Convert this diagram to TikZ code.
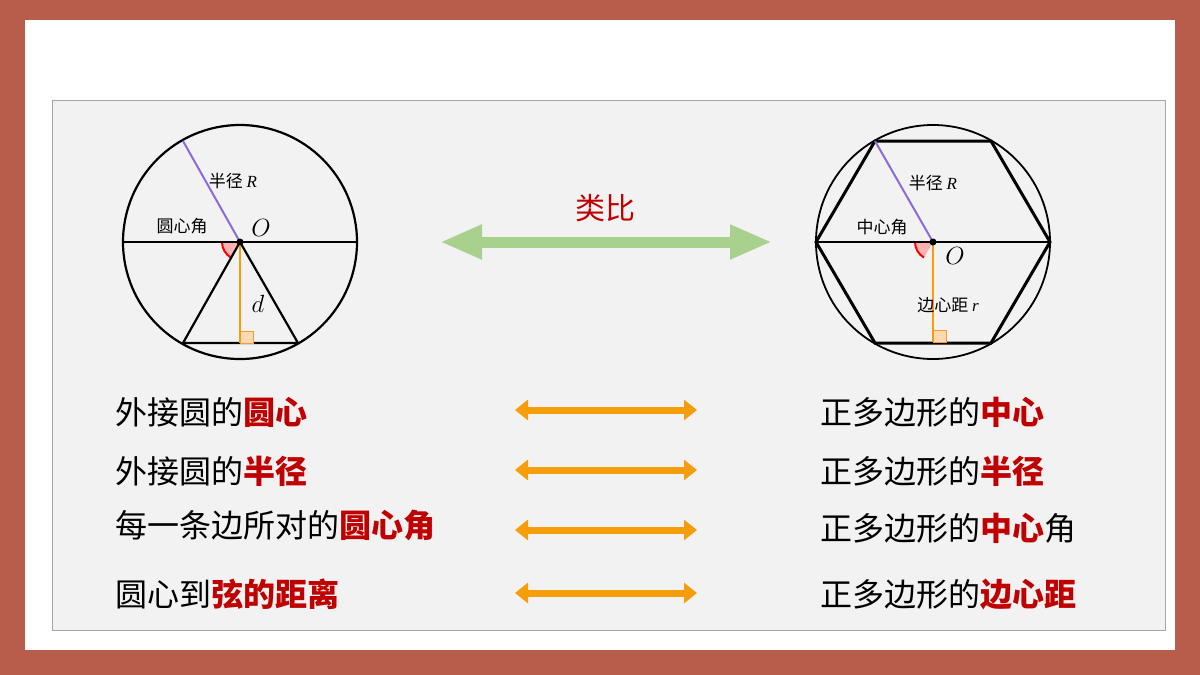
\documentclass[tikz,border=0pt]{standalone}
\usepackage{fontspec}
\newfontfamily\cjk{Noto Sans CJK SC}
\usetikzlibrary{arrows.meta,calc}
\definecolor{brd}{HTML}{B85C4C}
\definecolor{dred}{HTML}{C00000}
\definecolor{org}{HTML}{F59D0A}
\definecolor{grn}{HTML}{A9D18E}
\definecolor{purp}{HTML}{8E6AD8}
\tikzset{
  geo/.style={line width=2.2pt,black},
  lbl/.style={font=\cjk\fontsize{17}{17}\selectfont,inner sep=0pt},
  big/.style={font=\cjk\fontsize{32}{32}\selectfont,inner sep=0pt,anchor=west},
  oarr/.style={draw=org,line width=7pt,{Triangle[length=13pt,width=20pt]}-{Triangle[length=13pt,width=20pt]}},
  hl/.style={text=dred,font=\bfseries}
}
\begin{document}
\begin{tikzpicture}[x=1pt,y=-1pt]
\useasboundingbox (0,0) rectangle (1200,675);
\fill[brd] (0,0) rectangle (1200,675);
\fill[white] (25,20) rectangle (1175,650);
\draw[fill={rgb,255:red,242;green,242;blue,242},draw=gray!70,line width=0.8pt] (52,100) rectangle (1165,630);
% left circle
\coordinate (L) at (240,242);
\fill[red!30] (L) -- ++(180:18) arc[start angle=180,end angle=120,radius=18] -- cycle;
\draw[red,line width=2pt] ($(L)+(180:18)$) arc[start angle=180,end angle=120,radius=18];
\draw[geo] (L) circle[radius=117];
\draw[geo] (123,242) -- (357,242);
\coordinate (LA) at (183,343); \coordinate (LB) at (298,343); \coordinate (LM) at (240,343);
\draw[geo] (L) -- (LA) -- (LB) -- cycle;
\draw[purp,line width=2pt] (L) -- (183,141);
\draw[fill=orange!30,draw=orange!80,line width=1pt] (240,343) rectangle (253,331);
\draw[org,line width=2.2pt] (L) -- (LM);
\fill (L) circle[radius=3.5];
\node[lbl] (lr) at (233,181) {半径 \textit{\fontspec{Liberation Serif}R}};
\node[lbl] (la) at (182,226) {圆心角};
\node[inner sep=0pt,font=\fontsize{32}{32}\selectfont\itshape] (lo) at (261,228) {$O$};
\node[inner sep=0pt,font=\fontsize{30}{30}\selectfont] (ld) at (258,304) {$d$};
% right
\coordinate (R) at (933,242);
\fill[red!30] (R) -- ++(180:18) arc[start angle=180,end angle=120,radius=18] -- cycle;
\draw[red,line width=2pt] ($(R)+(180:18)$) arc[start angle=180,end angle=120,radius=18];
\draw[line width=1.8pt] (R) circle[radius=117];
\draw[line width=3pt] (1050,242) -- (991,141) -- (875,141) -- (816,242) -- (875,343) -- (991,343) -- cycle;
\draw[geo] (816,242) -- (1050,242);
\draw[purp,line width=2pt] (R) -- (875,141);
\draw[fill=orange!30,draw=orange!80,line width=1pt] (933,342) rectangle (946,330);
\draw[org,line width=2.2pt] (R) -- (933,342);
\fill (R) circle[radius=3.5];
\node[lbl] (rr) at (933,183) {半径 \textit{\fontspec{Liberation Serif}R}};
\node[lbl] (ra) at (882,227) {中心角};
\node[inner sep=0pt,font=\fontsize{32}{32}\selectfont] (ro) at (955,256) {$O$};
\node[lbl] (rd) at (948,305) {边心距 \textit{\fontspec{Liberation Serif}r}};
% analogy
\coordinate (g1) at (440,242); \coordinate (g2) at (772,242);
\draw[grn,line width=11pt,{Triangle[length=42pt,width=32pt]}-{Triangle[length=42pt,width=32pt]}] (g1) -- (g2);
\node[font=\cjk\fontsize{30}{30}\selectfont,text=dred,inner sep=0pt] (lb) at (605,208) {类比};
% rows
\node[big] (t1) at (115,412) {外接圆的\textcolor{dred}{\bfseries 圆心}};
\node[big] (t2) at (115,471) {外接圆的\textcolor{dred}{\bfseries 半径}};
\node[big] (t3) at (115,525) {每一条边所对的\textcolor{dred}{\bfseries 圆心角}};
\node[big] (t4) at (115,594) {圆心到\textcolor{dred}{\bfseries 弦的距离}};
\node[big] (u1) at (820,412) {正多边形的\textcolor{dred}{\bfseries 中心}};
\node[big] (u2) at (820,471) {正多边形的\textcolor{dred}{\bfseries 半径}};
\node[big] (u3) at (820,528) {正多边形的\textcolor{dred}{\bfseries 中心}角};
\node[big] (u4) at (820,594) {正多边形的\textcolor{dred}{\bfseries 边心距}};
\foreach \y/\n in {410/1,470/2,530/3,593/4}{
  \coordinate (a\n) at (515,\y); \coordinate (b\n) at (697,\y);
  \draw[oarr] (a\n) -- (b\n);
}
\end{tikzpicture}
\end{document}
